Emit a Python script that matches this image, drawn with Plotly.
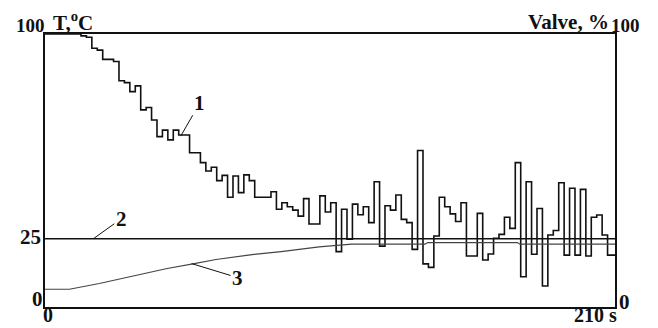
import plotly.graph_objects as go

# ---- data ----
# curve 1: temperature, step changes (value held until next time)
temp_time = [0.0] + [13.26 + 2 * m for m in range(99)] + [210.0]
temp_vals = [100.0,
             99.3, 98.8, 94.8, 94.1, 90.7, 90.7, 89.9, 82.9, 82.2, 78.9,
             81.0, 72.2, 73.1, 68.5, 62.4, 64.8, 61.2, 64.8, 63.0, 63.0,
             56.5, 56.5, 52.9, 49.8, 51.2, 46.3, 48.2, 40.2, 48.0, 41.9,
             48.4, 46.3, 40.2, 40.2, 40.2, 42.2, 35.8, 38.2, 36.7, 35.5,
             33.3, 39.7, 30.4, 30.4, 40.7, 34.8, 38.2, 20.3, 35.8, 24.8,
             37.7, 33.8, 36.7, 30.9, 45.9, 22.3, 37.1, 35.5, 41.0, 32.1,
             30.9, 21.1, 57.3, 15.8, 14.5, 26.0, 40.2, 36.7, 34.1, 31.3,
             38.2, 18.7, 18.7, 34.3, 17.2, 19.4, 25.2, 26.6, 32.9, 28.8,
             52.9, 11.1, 45.9, 19.3, 36.1, 7.7, 26.4, 28.0, 45.5, 19.0,
             43.5, 19.0, 43.1, 18.7, 32.9, 33.7, 26.4, 19.0, 19.0,
             19.0]

# curve 2: set point
setpoint_time = [0, 210]
setpoint_vals = [25, 25]

# curve 3: valve position, %
valve_time = [0, 9, 20, 32, 45, 55, 63, 77, 87, 101, 113, 126, 140, 141, 174, 175, 210]
valve_vals = [6.5, 6.5, 8.6, 11.3, 14.1, 15.9, 17.4, 19.3, 20.3, 22.0, 23.0, 23.0,
              23.0, 23.6, 23.6, 23.0, 23.0]

FONT = dict(family="Liberation Serif, Times New Roman, serif", size=21, color="#111111", weight="bold")
FONT_NUM = dict(FONT, size=19)
FONT_BOT = dict(FONT, size=20)

fig = go.Figure()
fig.add_trace(go.Scatter(x=temp_time, y=temp_vals, mode="lines",
                         line=dict(color="#111111", width=1.6, shape="hv"), showlegend=False))
fig.add_trace(go.Scatter(x=setpoint_time, y=setpoint_vals, mode="lines",
                         line=dict(color="#111111", width=1.6), showlegend=False))
fig.add_trace(go.Scatter(x=valve_time, y=valve_vals, mode="lines", yaxis="y2",
                         line=dict(color="#444444", width=1.2), showlegend=False))

axis_common = dict(showgrid=False, zeroline=False, showticklabels=False, ticks="",
                   showline=True, linecolor="#111111", linewidth=2)
# the page body has an 8 px margin, so the figure is sized/offset to compensate
fig.update_layout(
    width=650, height=320,
    margin=dict(l=37, r=43, t=26, b=21),
    paper_bgcolor="white", plot_bgcolor="white",
    xaxis=dict(range=[0, 210], mirror=True, **axis_common),
    yaxis=dict(range=[0, 100], mirror=True, **axis_common),
    yaxis2=dict(range=[0, 100], overlaying="y", side="right", **axis_common),
)

def lab(text, x, y, xa="center", ya="middle", font=FONT, pad=1):
    fig.add_annotation(text=text, x=x, y=y, xref="paper", yref="paper",
                       xanchor=xa, yanchor=ya, showarrow=False, font=font, borderpad=pad)

lab("100", 0.004, 1.03, "right", font=FONT_NUM)
lab("T,<sup>o</sup>C", 0.01, 1.045, "left")
lab("Valve, %", 0.993, 1.045, "right")
lab("100", 0.99, 1.03, "left", font=FONT_NUM)
lab("25", -0.004, 0.256, "right")
lab("0", 0.0, 0.028, "right")
lab("0", 0.006, -0.074, ya="bottom", font=FONT_BOT, pad=0)
lab("210 s", 0.965, -0.074, ya="bottom", font=FONT_BOT, pad=0)
lab("0", 1.004, 0.017, "left")

def leader(text, x, y, ax, ay, yref="y"):
    fig.add_annotation(text=text, x=x, y=y, xref="x", yref=yref, ax=ax, ay=ay,
                       showarrow=True, arrowhead=0, arrowwidth=1, arrowcolor="#111111",
                       font=FONT)

leader("1", 50, 62.6, 19, -33)
leader("2", 17.8, 25, 28, -20)
leader("3", 54, 15.9, 46, 14, yref="y2")

fig.write_html("out.html")
